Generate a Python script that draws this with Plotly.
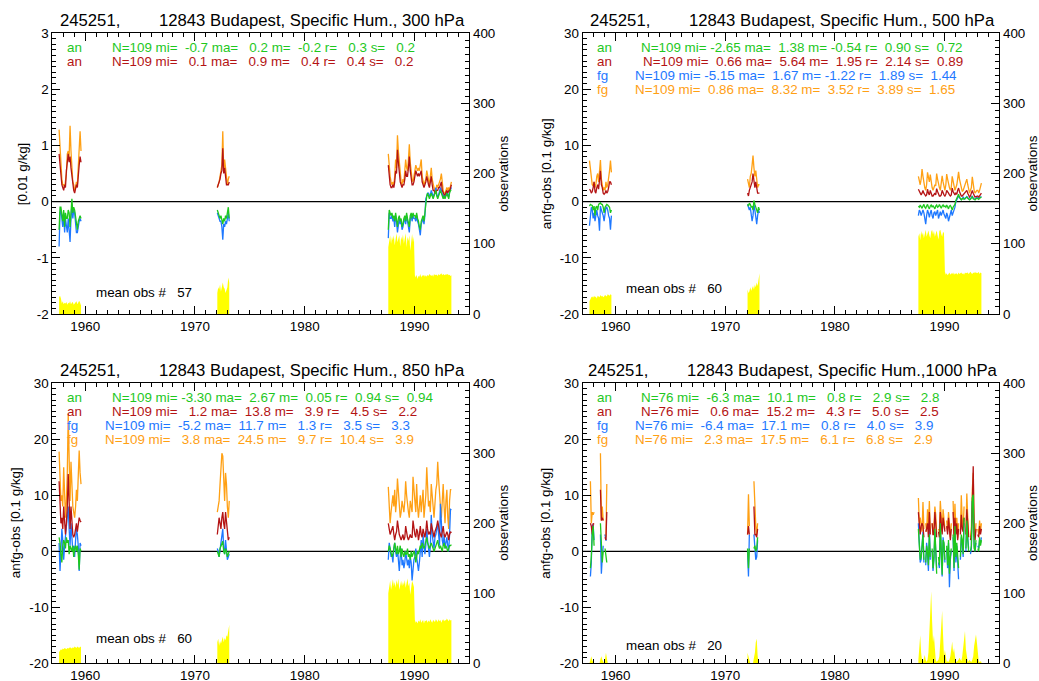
import pandas as pd
import plotly.graph_objects as go

# ---------------- data ----------------
# monthly segments that have data (first month, last month)
SEGMENTS = [("1957-08", "1959-08"), ("1972-01", "1973-02"), ("1987-08", "1993-05")]
X_RANGE = ["1957-01-01", "1995-01-01"]
YEAR_TICKS = ["1960", "1970", "1980", "1990"]
OBS_TICKS = [0, 100, 200, 300, 400]

# ---- 300 hPa ----
FG_300 = ([1.28, 1.0, 0.6, 0.4, 0.3, 0.3, 0.25, 0.35, 0.5, 0.85, 0.9, 0.8, 1.35, 0.9, 0.6, 0.35, 0.3, 0.2, 0.25, 0.35, 0.3, 0.55, 0.8, 1.25, 0.9]
          + [0.25, 0.3, 0.35, 0.45, 0.55, 0.65, 1.25, 0.55, 0.75, 0.55, 0.35, 0.3, 0.4, 0.45]
          + [0.85, 0.6, 0.45, 0.35, 0.3,
             0.35, 0.3, 0.45, 0.75, 0.6, 1.18, 0.9, 0.65, 0.45, 0.35, 0.3, 0.4,
             0.35, 0.5, 0.75, 0.6, 0.55, 0.75, 1.02, 0.7, 0.5, 0.4, 0.35, 0.45,
             0.5, 0.65, 0.6, 0.55, 0.6, 0.55, 0.65, 0.75, 0.45, 0.35, 0.3, 0.35,
             0.4, 0.55, 0.45, 0.35, 0.3, 0.45, 0.6, 0.4, 0.3, 0.25, 0.2, 0.2,
             0.3, 0.25, 0.3, 0.35, 0.4, 0.5, 0.3, 0.2, 0.15, 0.15, 0.2, 0.25,
             0.2, 0.25, 0.2, 0.3, 0.35])
AN_300 = ([0.85, 0.6, 0.35, 0.3, 0.25, 0.2, 0.3, 0.25, 0.55, 0.75, 0.85, 0.7, 0.8, 0.6, 0.45, 0.3, 0.2, 0.15, 0.25, 0.3, 0.25, 0.55, 0.65, 0.8, 0.7]
          + [0.25, 0.3, 0.35, 0.4, 0.5, 0.55, 0.95, 0.5, 0.6, 0.45, 0.3, 0.3, 0.3, 0.35]
          + [0.65, 0.45, 0.3, 0.25, 0.25,
             0.3, 0.25, 0.35, 0.55, 0.5, 0.92, 0.7, 0.5, 0.35, 0.3, 0.25, 0.3,
             0.3, 0.4, 0.55, 0.45, 0.45, 0.6, 0.8, 0.55, 0.4, 0.3, 0.3, 0.35,
             0.45, 0.55, 0.5, 0.45, 0.5, 0.45, 0.5, 0.55, 0.35, 0.3, 0.25, 0.3,
             0.35, 0.45, 0.35, 0.3, 0.25, 0.35, 0.45, 0.3, 0.2, 0.2, 0.15, 0.15,
             0.2, 0.2, 0.25, 0.25, 0.3, 0.35, 0.2, 0.15, 0.12, 0.12, 0.15, 0.2,
             0.15, 0.2, 0.18, 0.25, 0.3])
FGB_300 = ([-0.8, -0.2, -0.15, -0.3, -0.45, -0.2, -0.55, -0.3, -0.45, -0.55, -0.3, -0.5, -0.72, -0.3, -0.05, -0.3, -0.15, -0.2, -0.4, -0.55, -0.55, -0.4, -0.35, -0.3, -0.35]
           + [-0.2, -0.25, -0.3, -0.35, -0.35, -0.45, -0.68, -0.4, -0.45, -0.35, -0.4, -0.3, -0.2, -0.35]
           + [-0.65, -0.2, -0.3, -0.3, -0.25,
              -0.35, -0.3, -0.45, -0.25, -0.35, -0.55, -0.35, -0.3, -0.4, -0.35, -0.5, -0.45,
              -0.35, -0.3, -0.4, -0.25, -0.35, -0.45, -0.55, -0.3, -0.25, -0.35, -0.25, -0.3,
              -0.3, -0.35, -0.25, -0.35, -0.4, -0.5, -0.6, -0.4, -0.35, -0.3, -0.4, -0.25,
              0.05, 0.1, 0.15, 0.15, 0.1, 0.12, 0.2, 0.15, 0.08, 0.12, 0.18, 0.25,
              0.12, 0.08, 0.12, 0.18, 0.25, 0.2, 0.12, 0.08, 0.12, 0.08, 0.12, 0.18,
              0.12, 0.08, 0.18, 0.22, 0.25])
ANB_300 = ([-0.5, -0.1, -0.1, -0.2, -0.35, -0.15, -0.45, -0.2, -0.3, -0.3, -0.15, -0.2, -0.45, -0.2, 0.05, -0.2, -0.1, -0.15, -0.3, -0.45, -0.5, -0.35, -0.3, -0.25, -0.3]
           + [-0.15, -0.2, -0.25, -0.3, -0.25, -0.35, -0.4, -0.3, -0.35, -0.25, -0.3, -0.2, -0.1, -0.3]
           + [-0.5, -0.15, -0.2, -0.25, -0.2,
              -0.3, -0.25, -0.35, -0.2, -0.3, -0.45, -0.3, -0.25, -0.35, -0.3, -0.45, -0.4,
              -0.3, -0.25, -0.35, -0.2, -0.3, -0.4, -0.45, -0.25, -0.2, -0.3, -0.2, -0.25,
              -0.25, -0.3, -0.2, -0.3, -0.35, -0.45, -0.5, -0.35, -0.3, -0.25, -0.35, -0.2,
              0.05, 0.1, 0.15, 0.1, 0.05, 0.1, 0.15, 0.1, 0.05, 0.1, 0.15, 0.2,
              0.1, 0.05, 0.1, 0.15, 0.2, 0.15, 0.1, 0.05, 0.1, 0.05, 0.1, 0.15,
              0.1, 0.05, 0.15, 0.2, 0.2])
OBS_300 = ([24, 26, 22, 15, 18, 14, 16, 15, 17, 13, 16, 15, 18, 14, 16, 17, 13, 15, 16, 18, 14, 17, 19, 16, 12]
           + [30, 38, 35, 42, 32, 40, 45, 38, 36, 30, 34, 38, 52, 45]
           + [95, 108, 112, 100, 110,
              105, 112, 98, 110, 115, 102, 108, 112, 96, 110, 105, 113,
              100, 108, 115, 95, 110, 104, 112, 90, 108, 114, 102, 110,
              55, 52, 56, 50, 54, 53, 57, 52, 55, 54, 56, 53,
              55, 53, 56, 54, 57, 55, 54, 56, 53, 57, 55, 56,
              56, 54, 57, 55, 56, 58, 55, 57, 56, 55, 57, 56,
              57, 55, 56, 54, 55])

# ---- 500 hPa ----
FG_500 = ([7.3, 5.5, 3.5, 3.0, 2.8, 3.5, 2.5, 3.0, 4.5, 5.0, 3.5, 5.5, 7.4, 4.0, 3.0, 2.0, 2.5, 2.0, 3.5, 2.5, 3.0, 4.0, 5.5, 7.3, 5.2]
          + [4.0, 3.0, 2.5, 4.5, 5.0, 6.5, 8.2, 6.0, 4.5, 5.5, 3.0, 2.5, 3.0, 3.0]
          + [4.5, 3.5, 3.0, 4.0, 5.8,
             4.5, 3.0, 2.5, 2.0, 3.0, 5.2, 4.0, 3.5, 4.8, 3.5, 2.5, 2.0,
             2.5, 3.0, 2.8, 5.0, 4.0, 3.0, 2.5, 2.0, 3.0, 4.6, 3.5, 2.5,
             2.0, 3.0, 4.9, 4.0, 3.0, 2.5, 2.0, 2.5, 4.5, 3.5, 2.5, 2.0,
             2.5, 3.0, 4.0, 5.3, 4.0, 3.0, 2.0, 1.8, 2.0, 2.5, 3.0, 3.5,
             4.0, 3.0, 2.0, 1.5, 2.0, 2.5, 4.4, 3.0, 2.0, 1.5, 1.8, 2.0,
             2.0, 1.5, 2.0, 2.5, 3.3])
AN_500 = ([2.2, 2.0, 1.5, 1.8, 2.5, 3.5, 1.8, 1.5, 2.5, 3.0, 2.2, 3.5, 5.5, 3.0, 2.5, 1.5, 1.3, 1.5, 2.0, 1.5, 1.8, 2.5, 3.5, 3.5, 3.0]
          + [1.5, 1.0, 2.0, 2.5, 3.0, 3.5, 5.0, 3.5, 2.5, 3.5, 2.0, 1.5, 1.5, 1.5]
          + [2.2, 1.8, 1.5, 1.2, 1.5,
             2.0, 1.5, 1.2, 1.0, 1.2, 2.2, 1.5, 1.2, 2.0, 1.5, 1.0, 1.0,
             1.2, 1.5, 1.2, 2.3, 1.8, 1.5, 1.0, 1.0, 1.2, 2.0, 1.5, 1.2,
             1.0, 1.3, 2.0, 1.8, 1.5, 1.2, 1.0, 1.2, 2.4, 1.8, 1.5, 1.2,
             1.5, 1.3, 2.0, 2.4, 1.8, 1.3, 1.0, 1.0, 1.2, 1.5, 1.5, 1.8,
             2.0, 1.5, 1.0, 0.8, 1.0, 1.5, 2.0, 1.5, 1.0, 0.8, 0.9, 1.0,
             1.0, 0.8, 1.0, 1.2, 1.5])
FGB_500 = ([-4.3, -2.0, -1.0, -1.5, -3.0, -2.0, -3.5, -2.5, -1.5, -2.5, -3.0, -5.2, -0.8, -1.5, -2.0, -2.5, -3.5, -2.0, -1.0, -1.0, -1.5, -2.5, -3.0, -5.0, -2.5]
           + [-0.5, -1.0, -1.5, -1.0, -2.0, -3.5, -2.5, -0.5, -1.5, -2.5, -4.0, -2.5, -1.5, -2.0]
           + [-2.5, -1.5, -1.8, -2.5, -2.0,
              -1.5, -2.0, -3.0, -4.0, -2.5, -1.5, -2.0, -2.8, -2.0, -1.5, -2.5, -3.0,
              -2.0, -1.8, -2.5, -2.0, -1.5, -3.0, -2.2, -1.8, -2.5, -2.0, -1.5, -2.2,
              -2.5, -3.0, -2.0, -2.5, -3.5, -2.8, -2.0, -1.5, -2.5, -2.0, -1.5, -1.0,
              0.0, 0.3, 0.6, 1.0, 0.7, 0.5, 0.4, 0.5, 0.8, 0.6, 0.5, 0.7,
              0.9, 0.7, 0.5, 0.4, 0.5, 0.7, 1.0, 0.6, 0.5, 0.4, 0.6, 0.8,
              0.6, 0.5, 0.7, 0.8, 0.9])
ANB_500 = ([-0.8, -0.5, -0.6, -0.7, -1.5, -0.8, -2.5, -1.0, -0.8, -1.5, -0.5, -0.4, -0.2, -0.5, -0.5, -1.0, -2.0, -1.0, -0.8, -0.5, -0.6, -0.8, -1.0, -2.0, -1.5]
           + [-0.5, -0.8, -0.3, -0.5, -1.0, -0.8, -1.5, 0.2, -0.5, -1.0, -1.5, -2.0, -1.0, -1.5]
           + [-0.8, -1.0, -0.6, -0.8, -1.2,
              -0.8, -0.5, -1.0, -1.2, -0.8, -0.5, -1.0, -1.3, -0.8, -0.6, -1.0, -0.7,
              -1.0, -1.3, -0.8, -0.6, -1.0, -0.9, -0.5, -1.0, -1.2, -0.8, -0.6, -0.9,
              -0.8, -1.0, -0.6, -0.9, -1.3, -0.8, -0.7, -1.0, -1.5, -1.0, -0.8, -0.5,
              0.2, 0.5, 0.8, 1.3, 0.8, 0.5, 0.3, 0.5, 0.6, 0.4, 0.5, 0.7,
              0.8, 0.6, 0.5, 0.3, 0.4, 0.6, 0.9, 0.5, 0.4, 0.3, 0.5, 0.6,
              0.5, 0.4, 0.6, 0.7, 0.8])
OBS_500 = ([18, 22, 24, 25, 23, 26, 24, 25, 22, 26, 25, 24, 27, 25, 26, 24, 25, 27, 26, 25, 28, 27, 26, 28, 27]
           + [35, 30, 32, 38, 33, 36, 40, 35, 42, 38, 45, 40, 55, 58]
           + [110, 115, 105, 118, 112,
              116, 108, 118, 120, 110, 115, 119, 112, 108, 117, 120, 113,
              118, 110, 116, 119, 112, 106, 118, 120, 114, 110, 117, 115,
              60, 56, 58, 55, 57, 59, 56, 58, 57, 59, 56, 58,
              57, 58, 56, 59, 57, 58, 59, 57, 58, 56, 59, 58,
              58, 59, 57, 58, 60, 58, 57, 59, 58, 60, 58, 59,
              58, 60, 57, 59, 58])

# ---- 850 hPa ----
FG_850 = ([17.8, 12, 9, 10, 8, 15, 10, 6, 9, 14, 24.5, 13, 9, 16, 11, 8, 7, 6, 8, 11, 9, 13, 18, 14, 12]
          + [7, 8, 9, 12, 15, 17.5, 17, 13, 9, 14, 12, 8, 6, 9]
          + [11.5, 8, 5, 7, 9,
             10, 8, 11, 7, 9, 13, 10, 8, 6, 7, 9, 8,
             7, 9, 12.5, 10, 8, 7, 6, 9, 8, 7, 13.3, 10,
             9, 7, 12, 8, 6, 8, 10, 7, 9, 11, 6, 8,
             10, 15, 11, 8, 9, 7, 12, 9, 8, 6, 10, 11,
             12, 16, 13, 9, 8, 6, 10, 12, 8, 5, 9, 11,
             6, 4, 9, 11, 11])
AN_850 = ([12.5, 7, 5, 6, 4, 8, 5, 3, 5, 8, 13.8, 7, 4, 8, 5, 3, 2.5, 3, 4, 5, 3.5, 5, 6, 5.5, 5.2]
          + [3, 5, 6, 5, 4, 6, 7, 5, 4, 7, 5, 3, 2, 2.5]
          + [5, 4, 3, 3.5, 4,
             4.5, 3, 2, 3, 3.5, 5.5, 4, 3, 2.5, 2, 2.5, 3,
             2, 2.5, 4.5, 3, 2.5, 2, 2.5, 3, 2.5, 2.5, 5.5, 4,
             3, 2.5, 4, 3.5, 2, 3, 4.5, 3, 2.5, 4, 3, 2.5,
             3.5, 5.5, 4, 3, 3.5, 3, 5, 4, 3, 2.5, 3.5, 4,
             4.5, 5.5, 4, 3.5, 3, 2.5, 3.5, 4.5, 3, 2.5, 3, 3.5,
             3, 2, 3, 3.5, 3.3])
FGB_850 = ([1.5, -3.5, 0, 4, 2, -1.5, 1, 3, 4, 7, 8, 4, 1, 5, 2, 0, 1, -1, 2, 4, 3, 1, -3.5, 1.5, 1.0]
           + [0.5, 0, -1, 0.5, 1.5, 3.5, 4, 0.5, -0.5, 2.0, 0.5, -1.5, -1.0, -0.5]
           + [-1.5, 1.5, 0.5, -1, -0.5,
              -2, 0.5, 1.5, 0, -1, 0.5, -2, -3.5, -1, 0.5, -2.5, -1.5,
              -3, -2, 0, -1, -2.5, -1.5, -3, -1, -2, -5.2, -3, -1.5,
              -1, 0.5, -1, -2, -3.5, -2, 0, 2, -1, 3, 1, -0.5,
              1, 4, 2, 0, -1, 1, 6.5, 3, 1, 0.5, 2.5, 3,
              4, 5, 3, 1, 8.5, 5, 2, 1, 3, 0.5, 1.5, 2.5,
              1, 0, 3, 7.5, 7.4])
ANB_850 = ([2.5, 1.5, -0.5, -2, 1.0, 2.0, 1.5, 0.5, 2.5, 1.5, 2.0, -0.5, 1.0, 0.5, 0.0, 1.0, -1.0, 0.5, 1.0, 0.0, 1.0, -0.5, -3.3, 0.5, 0.0]
           + [0.0, -0.5, -1.0, 0.5, 1.0, 1.5, 1.8, 0.0, -0.5, 0.5, 0.0, -1.0, -0.5, 0.0]
           + [0, 1, 0.5, -0.5, -1,
              -0.5, 0.5, 1.5, 0.5, -0.5, 1, -0.5, 0, 1, -1, 0.5, -0.5,
              -1, 0, -0.5, -0.5, 0.5, -1, -0.5, -1.5, 0, -1, -0.5, 0,
              -0.5, -2, -1, 0, -0.5, 0.5, 1, 0.5, 1.5, 1, 0.5, 1,
              2, 2.5, 1.5, 1, 0.5, 1, 1.5, 1, 0.5, 0, 0.5, 1,
              1.5, 2, 1, 0.5, 1, 0.5, 0, 1, 1.5, 0.5, 1, 0.5,
              0, 0.5, 1, 1, 1.2])
OBS_850 = ([16, 18, 20, 19, 21, 20, 22, 21, 20, 22, 21, 22, 23, 22, 21, 23, 22, 24, 23, 22, 24, 23, 22, 24, 23]
           + [30, 35, 25, 32, 28, 34, 38, 30, 36, 33, 40, 38, 50, 55]
           + [100, 112, 118, 105, 115,
              120, 110, 116, 108, 119, 112, 121, 105, 114, 118, 110, 116,
              112, 119, 108, 117, 121, 110, 115, 98, 112, 118, 114, 109,
              62, 58, 60, 57, 61, 59, 63, 58, 60, 62, 57, 61,
              60, 62, 58, 61, 59, 63, 60, 58, 62, 61, 59, 63,
              61, 59, 63, 60, 62, 58, 61, 63, 60, 62, 61, 64,
              62, 60, 63, 61, 62])

# ---- 1000 hPa (None = month without data) ----
N_ = None
FG_1000 = ([N_, 12.5, 5.0, 7.0, 6.5, 7.0, N_, N_, N_, N_, N_, N_, 17.5, 5.5, 8.0, 5.5, N_, 3.0, 2.5, 12.0, N_, N_, N_, N_, N_]
           + [3.0, 10.2, 4.5, N_, N_, N_, N_, 12.5, 6.0, 4.5, 3.0, 5.0, N_, N_]
           + [9.5, 5, 6, 5, 3.5,
              8.8, 4, N_, 5, 3.5, 7.5, 4, 9, 3.5, N_, 5, 3,
              4.5, 8, 6.5, 3, N_, 4, 3.5, 9, 5, 3.5, 7.5, 6,
              4, N_, 5.5, 3.5, 7, 4, 2.5, 5, N_, 9, 3, 8.5,
              4, 6, 2.3, 5, N_, 3.5, 10, 5.5, 4, 8, N_, 3.5,
              10.3, 6, 3, N_, 2.5, 4, 11, 14, 3.5, 2.5, 5, N_,
              4, 3, 5.5, 3.5, 5])
AN_1000 = ([N_, 5.0, 4.5, 3.0, 5.0, 4.8, N_, N_, N_, N_, N_, N_, 11.0, 5.5, 6.0, 5.5, N_, 2.5, 2.0, 7.0, N_, N_, N_, N_, N_]
           + [3.0, 4.5, 3.0, N_, N_, N_, N_, 8.0, 3.0, 3.0, 2.5, 4.0, N_, N_]
           + [7, 4.5, 3, 4.5, 5,
              4.5, 2.5, N_, 3.5, 4, 5, 2.5, 7, 3, N_, 5, 3,
              3, 7, 5, 2.5, N_, 3.5, 2.5, 7, 4, 3, 6, 5,
              3.5, N_, 4.5, 3, 6, 3.5, 2, 4, N_, 7, 2.5, 6,
              3, 5, 2, 4, N_, 3, 6.5, 4, 3.5, 6, N_, 3,
              7.5, 5, 2.5, N_, 2, 3, 8, 15.2, 3, 2, 4, N_,
              3, 2.5, 4.5, 3, 4])
FGB_1000 = ([N_, -4.5, -2.0, 4.5, 4.8, 2.0, N_, N_, N_, N_, N_, N_, 3.0, -4.0, -1.0, 1.0, N_, 3.0, 2.0, 2.0, N_, N_, N_, N_, N_]
            + [0.0, -4.5, 3.0, N_, N_, N_, N_, 3.0, 0.5, -1.5, -1.0, 2.0, N_, N_]
            + [5, 0.5, -2, -1.5, 1,
               3.5, -2, N_, -2.5, 1.5, -0.5, -3.5, 4, -1.5, N_, 0, -3.5,
               -1.5, 3.5, 0, -3, N_, -2, -3, 4.5, -1, -4.5, 2.5, 1,
               -2, N_, 0.5, -3, 1.5, -6.4, -1.5, 0, N_, 2.5, -3.5, 4,
               -2, 1, -3, -5, N_, -1.5, 2.5, 1.5, -1, 5, N_, 0,
               6, 2.5, 0.5, N_, -0.5, 0.5, 9, 8, 1, 0, 1.5, N_,
               1, 0.5, 2, 1.5, 2.5])
ANB_1000 = ([N_, -3.0, -1.0, 3.0, 4.5, 1.0, N_, N_, N_, N_, N_, N_, 5.0, 0.5, -2.0, 0.0, N_, 0.5, -1.0, -2.0, N_, N_, N_, N_, N_]
            + [0.5, -3.0, 0.5, N_, N_, N_, N_, 0.5, 1.0, 0.0, 0.5, 2.5, N_, N_]
            + [4, 1, -1.5, -1, 0.5,
               3, -1.5, N_, -2, 1, 0, -2.5, 3, -1, N_, 0.5, -3,
               -1, 4, 0.5, -4, N_, -1, -2.5, 5, 0, -4.2, 2, 1.5,
               -1.5, N_, 1, -2.5, 2, -4, -1, 0.5, N_, 3, -3, 4.5,
               -1, 1.5, -2, -3, N_, -1, 3, 2, -0.5, 6, N_, 0.5,
               5.5, 2, 0, N_, 0, 1, 9.5, 10.1, 0.5, 0, 2, N_,
               0.5, 0, 2.5, 1, 2])
OBS_1000 = ([0, 5, 10, 4, 2, 0, 0, 0, 0, 0, 0, 0, 6, 10, 5, 2, 0, 6, 15, 8, 0, 0, 0, 0, 0]
            + [15, 8, 3, 0, 0, 0, 0, 8, 15, 30, 35, 12, 0, 0]
            + [5, 20, 40, 15, 3,
               2, 8, 12, 5, 2, 5, 15, 45, 80, 103, 60, 30,
               40, 15, 5, 2, 3, 5, 10, 35, 60, 75, 40, 10,
               19, 5, 2, 3, 2, 5, 10, 20, 31, 15, 22, 10,
               3, 2, 3, 5, 8, 5, 3, 10, 25, 40, 46, 20,
               5, 2, 3, 5, 3, 2, 5, 10, 25, 35, 41, 30,
               10, 3, 2, 3, 2])

STATION = "245251,"
TITLES = ["12843 Budapest, Specific Hum., 300 hPa", "12843 Budapest, Specific Hum., 500 hPa",
          "12843 Budapest, Specific Hum., 850 hPa", "12843 Budapest, Specific Hum.,1000 hPa"]
LEFT_TITLES = ["[0.01 g/kg]", "anfg-obs [0.1 g/kg]", "anfg-obs [0.1 g/kg]", "anfg-obs [0.1 g/kg]"]
MEAN_OBS = ["57", "60", "60", "20"]
STATS = [
    [("an", "N=109 mi=  -0.7 ma=   0.2 m=  -0.2 r=   0.3 s=   0.2"),
     ("an", "N=109 mi=   0.1 ma=   0.9 m=   0.4 r=   0.4 s=   0.2")],
    [("an", "N=109 mi= -2.65 ma=  1.38 m= -0.54 r=  0.90 s=  0.72"),
     ("an", "N=109 mi=  0.66 ma=  5.64 m=  1.95 r=  2.14 s=  0.89"),
     ("fg", "N=109 mi= -5.15 ma=  1.67 m= -1.22 r=  1.89 s=  1.44"),
     ("fg", "N=109 mi=  0.86 ma=  8.32 m=  3.52 r=  3.89 s=  1.65")],
    [("an", "N=109 mi= -3.30 ma=  2.67 m=  0.05 r=  0.94 s=  0.94"),
     ("an", "N=109 mi=   1.2 ma=  13.8 m=   3.9 r=   4.5 s=   2.2"),
     ("fg", "N=109 mi=  -5.2 ma=  11.7 m=   1.3 r=   3.5 s=   3.3"),
     ("fg", "N=109 mi=   3.8 ma=  24.5 m=   9.7 r=  10.4 s=   3.9")],
    [("an", "N=76 mi=  -6.3 ma=  10.1 m=   0.8 r=   2.9 s=   2.8"),
     ("an", "N=76 mi=   0.6 ma=  15.2 m=   4.3 r=   5.0 s=   2.5"),
     ("fg", "N=76 mi=  -6.4 ma=  17.1 m=   0.8 r=   4.0 s=   3.9"),
     ("fg", "N=76 mi=   2.3 ma=  17.5 m=   6.1 r=   6.8 s=   2.9")],
]

# ---------------- style / layout ----------------
W, H = 1039, 681
FONT = "Liberation Sans, Arial, sans-serif"
GREEN, RED, BLUE, ORANGE = "rgb(30,200,30)", "rgb(180,20,20)", "rgb(30,120,255)", "rgb(255,160,20)"
STAT_COLORS = [GREEN, RED, BLUE, ORANGE]
YELLOW = "rgb(255,255,0)"

# plot-area boxes in pixels: (left, right, top, bottom)
BOXES = [(52.3, 469.3, 33.0, 314.0), (582.7, 999.3, 33.0, 314.0),
         (52.3, 469.3, 383.3, 663.3), (582.7, 999.3, 383.3, 663.3)]
LEFT_RANGES = [(-2, 3, 1, 0.1), (-20, 30, 10, 1), (-20, 30, 10, 1), (-20, 30, 10, 1)]
# text positions in pixels
TITLE_POS = [(58, 156.7, 20), (588.3, 686.7, 20), (57.7, 156.7, 370), (585.7, 685, 370)]
LABEL_X = [65, 595, 65, 595]
STAT_X = [[110, 110], [639.3, 640.7, 632.7, 632.7], [110, 110, 102.7, 102.7], [639.3, 639.3, 632.7, 632.7]]
STAT_Y0 = [47.7, 47.7, 397.7, 397.7]
MEAN_POS = [(94.3, 292.7), (624.3, 288.3), (94.3, 638.3), (624.3, 645)]
LTITLE_POS = [(22.7, 173.5), (546.7, 173.5), (15.7, 522.5), (545.5, 523.3)]
RTITLE_POS = [(503.3, 173.5), (1032, 173.5), (503.3, 522.5), (1032, 523)]


def seg_dates():
    out = []
    for a, b in SEGMENTS:
        d = pd.date_range(a + "-01", b + "-01", freq="MS") + pd.Timedelta(days=14)
        out.append([x.strftime("%Y-%m-%d") for x in d])
    return out


SEG_DATES = seg_dates()


def split_segments(values):
    assert len(values) == sum(len(s) for s in SEG_DATES)
    out, i = [], 0
    for dates in SEG_DATES:
        n = len(dates)
        out.append((dates, list(values[i:i + n])))
        i += n
    return out


def with_breaks(values):
    xs, ys = [], []
    for k, (dates, vals) in enumerate(split_segments(values)):
        if k > 0:
            xs.append(dates[0])
            ys.append(None)
        xs += dates
        ys += vals
    return xs, ys


def sfx(k):
    return "" if k == 1 else str(k)


def ann(text, xp, yp, color="black", size=13.4, xanchor="left", angle=0):
    return dict(text=text.replace(" ", "\u00a0"), x=xp / W, y=1 - yp / H, xref="paper", yref="paper",
                xanchor=xanchor, yanchor="middle", showarrow=False, textangle=angle,
                font=dict(family=FONT, size=size, color=color))


PANEL_DATA = [
    (FG_300, FGB_300, AN_300, ANB_300, OBS_300),
    (FG_500, FGB_500, AN_500, ANB_500, OBS_500),
    (FG_850, FGB_850, AN_850, ANB_850, OBS_850),
    (FG_1000, FGB_1000, AN_1000, ANB_1000, OBS_1000),
]

fig = go.Figure()
layout = dict(template="none", width=W, height=H, autosize=False, margin=dict(l=0, r=0, t=0, b=0, pad=0),
              paper_bgcolor="white", plot_bgcolor="white", showlegend=False,
              font=dict(family=FONT, size=13.4, color="black"))
annotations, shapes = [], []
tickfont = dict(family=FONT, size=13.4, color="black")

for i, (fg, fgb, an, anb, obs) in enumerate(PANEL_DATA):
    n = i + 1
    xa, yb, yl = "x" + sfx(n), "y" + sfx(n), "y" + str(n + 4)
    L, R, T, B = BOXES[i]
    lo, hi, dt, mdt = LEFT_RANGES[i]

    # observation counts: one filled trace per data segment (no bridging across gaps)
    for dates, vals in split_segments(obs):
        fig.add_trace(go.Scatter(x=dates, y=vals, xaxis=xa, yaxis=yb, mode="lines", fill="tozeroy",
                                 fillcolor=YELLOW, line=dict(width=0, color=YELLOW), hoverinfo="skip"))
    for vals, col in [(fg, ORANGE), (fgb, BLUE), (an, RED), (anb, GREEN)]:
        xs, ys = with_breaks(vals)
        fig.add_trace(go.Scatter(x=xs, y=ys, xaxis=xa, yaxis=yl, mode="lines",
                                 line=dict(color=col, width=1.3)))

    layout["xaxis" + sfx(n)] = dict(
        domain=[L / W, R / W], range=X_RANGE, type="date", anchor=yb, automargin=False,
        tickvals=[y + "-01-01" for y in YEAR_TICKS], ticktext=YEAR_TICKS,
        ticks="inside", ticklen=8, tickwidth=1, tickcolor="black",
        showline=True, linecolor="black", linewidth=1, mirror="ticks",
        showgrid=False, zeroline=False, tickfont=tickfont,
        minor=dict(dtick="M12", tick0="1957-01-01", ticks="inside", ticklen=4,
                   tickcolor="black", tickwidth=1, showgrid=False))
    layout["yaxis" + sfx(n)] = dict(
        domain=[1 - B / H, 1 - T / H], range=[0, 400], side="right", anchor=xa, automargin=False,
        tickvals=OBS_TICKS, ticktext=[str(v) for v in OBS_TICKS],
        ticks="inside", ticklen=8, tickwidth=1, tickcolor="black",
        showline=True, linecolor="black", linewidth=1,
        showgrid=False, zeroline=False, tickfont=tickfont,
        minor=dict(dtick=10, tick0=0, ticks="inside", ticklen=4, tickcolor="black",
                   tickwidth=1, showgrid=False))
    lticks = [lo + k * dt for k in range(int(round((hi - lo) / dt)) + 1)]
    layout["yaxis" + str(n + 4)] = dict(
        domain=[1 - B / H, 1 - T / H], range=[lo, hi], side="left", anchor=xa, overlaying=yb,
        automargin=False, tickvals=lticks, ticktext=[str(v) for v in lticks],
        ticks="inside", ticklen=8, tickwidth=1, tickcolor="black",
        showline=True, linecolor="black", linewidth=1,
        showgrid=False, zeroline=False, tickfont=tickfont,
        minor=dict(dtick=mdt, tick0=lo, ticks="inside", ticklen=4, tickcolor="black",
                   tickwidth=1, showgrid=False))

    shapes.append(dict(type="line", xref=xa + " domain", x0=0, x1=1, yref=yl, y0=0, y1=0,
                       line=dict(color="black", width=1.3), layer="below"))

    tx0, tx1, ty = TITLE_POS[i]
    annotations.append(ann(STATION, tx0, ty, size=16.7))
    annotations.append(ann(TITLES[i], tx1, ty, size=16.7))
    for j, (lab, txt) in enumerate(STATS[i]):
        yy = STAT_Y0[i] + 13.9 * j
        annotations.append(ann(lab, LABEL_X[i], yy, color=STAT_COLORS[j]))
        annotations.append(ann(txt, STAT_X[i][j], yy, color=STAT_COLORS[j]))
    mx, my = MEAN_POS[i]
    annotations.append(ann("mean obs #   " + MEAN_OBS[i], mx, my))
    lx, ly = LTITLE_POS[i]
    annotations.append(ann(LEFT_TITLES[i], lx, ly, xanchor="center", angle=-90))
    rx, ry = RTITLE_POS[i]
    annotations.append(ann("observations", rx, ry, xanchor="center", angle=-90))

layout["annotations"] = annotations
layout["shapes"] = shapes
fig.update_layout(**layout)
fig.write_html("out.html")
